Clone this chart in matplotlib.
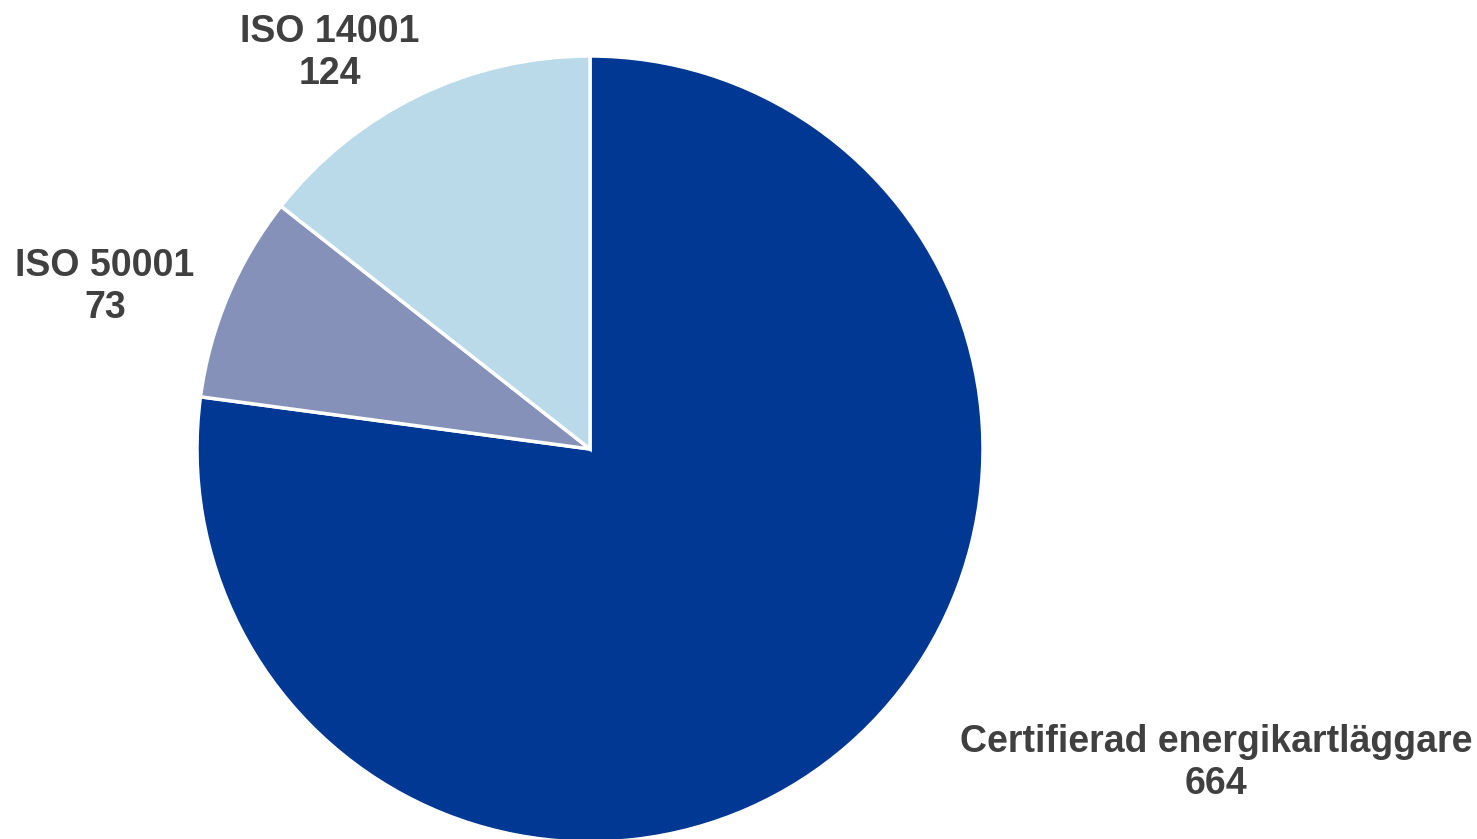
import matplotlib
matplotlib.use('Agg')
import matplotlib.pyplot as plt

labels = ['Certifierad energikartläggare', 'ISO 50001', 'ISO 14001']
values = [664, 73, 124]
colors = ['#003893', '#8591B9', '#BADAEA']

W, H = 1477, 839
fig = plt.figure(figsize=(W / 100, H / 100), dpi=100)
ax = fig.add_axes([0, 0, 1, 1])

ax.pie(values, colors=colors, startangle=90, counterclock=False,
       center=(590, H - 449), radius=393,
       wedgeprops=dict(edgecolor='white', linewidth=2.5))

# pie() resets the limits, so set them afterwards
ax.set_xlim(0, W)
ax.set_ylim(0, H)
ax.set_aspect('equal')
ax.axis('off')

# label positions in pixel coords (x, y from top)
label_pos = [(1216, 763), (105, 287), (330, 53)]
for lab, val, (x, y) in zip(labels, values, label_pos):
    ax.text(x, H - y, f'{lab}\n{val}', ha='center', va='center',
            fontsize=27, fontweight='bold', color='#404040',
            family='Liberation Sans', linespacing=1.2)

fig.savefig('out.png', dpi=100)
